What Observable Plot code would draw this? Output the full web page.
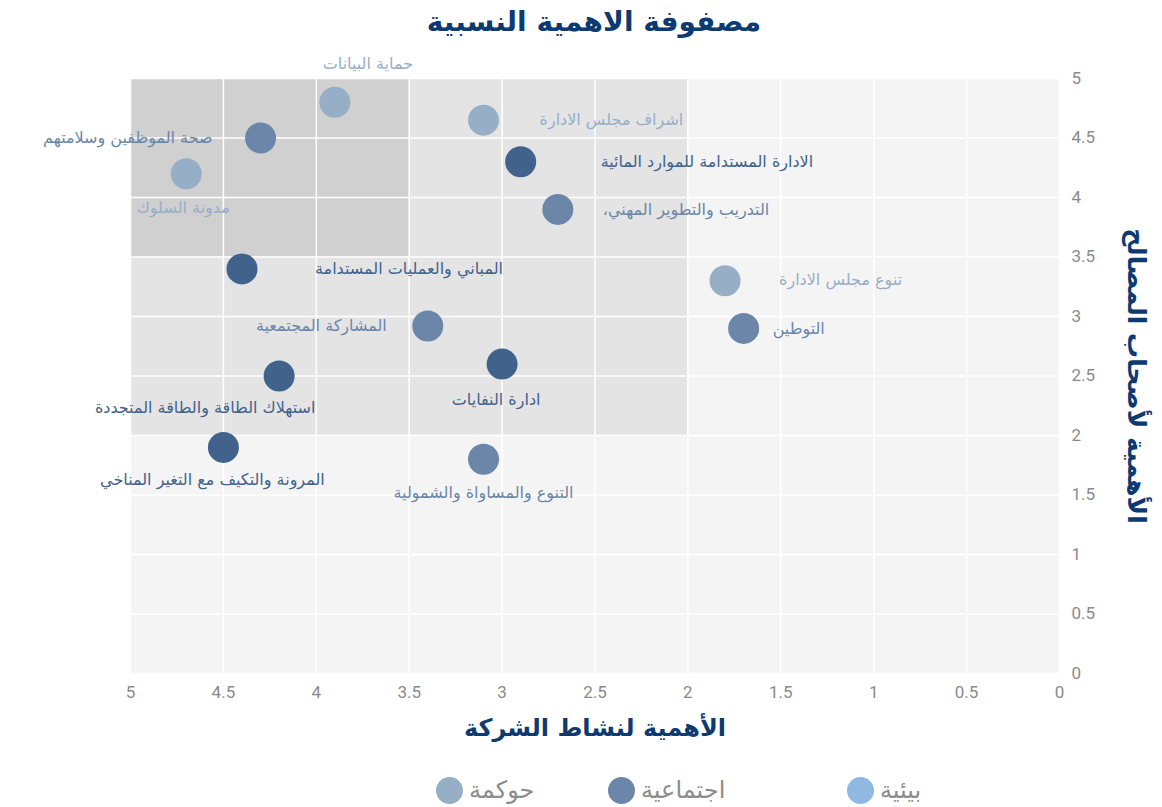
<!DOCTYPE html>
<html lang="ar">
<head>
<meta charset="utf-8">
<script src="https://cdn.jsdelivr.net/npm/d3@7"></script>
<script src="https://cdn.jsdelivr.net/npm/@observablehq/plot@0.6"></script>
<style>
  html, body { margin: 0; padding: 0; background: #fff; }
  body { width: 1162px; height: 807px; position: relative; overflow: hidden; font-family: "DejaVu Sans", sans-serif; }
  #title { position: absolute; top: 0; left: 13px; width: 1162px; height: 45px; text-align: center;
           font: bold 28px "DejaVu Sans", sans-serif; color: #0d3a70; line-height: 44px; }
  #chart { position: absolute; top: 45px; left: 0; }
  #legend { position: absolute; top: 775px; left: 0; width: 1162px; height: 30px; }
  .item { position: absolute; top: 0; display: flex; align-items: center; height: 30px; }
  .sw { width: 27px; height: 27px; border-radius: 50%; margin-right: 6px; }
  .lt { font: 24px "DejaVu Sans", sans-serif; color: #8c8c8c; }
</style>
</head>
<body>
<div id="title">مصفوفة الاهمية النسبية</div>
<div id="chart"></div>
<div id="legend"></div>
<script>
// ---- data ----
const topics = [
  "حماية البيانات",
  "صحة الموظفين وسلامتهم",
  "مدونة السلوك",
  "اشراف مجلس الادارة",
  "الادارة المستدامة للموارد المائية",
  "التدريب والتطوير المهني،\u200F",
  "المباني والعمليات المستدامة",
  "تنوع مجلس الادارة",
  "المشاركة المجتمعية",
  "التوطين",
  "ادارة النفايات",
  "استهلاك الطاقة والطاقة المتجددة",
  "المرونة والتكيف مع التغير المناخي",
  "التنوع والمساواة والشمولية"
];
const companyImportance = [3.9, 4.3, 4.7, 3.1, 2.9, 2.7, 4.4, 1.8, 3.4, 1.7, 3.0, 4.2, 4.5, 3.1];
const stakeholderImportance = [4.8, 4.5, 4.2, 4.65, 4.3, 3.9, 3.4, 3.3, 2.92, 2.9, 2.6, 2.5, 1.9, 1.8];
const topicCategory = ["حوكمة", "اجتماعية", "حوكمة", "حوكمة", "بيئية", "اجتماعية", "بيئية", "حوكمة", "اجتماعية", "اجتماعية", "بيئية", "بيئية", "بيئية", "اجتماعية"];

const legendCategories = ["حوكمة", "اجتماعية", "بيئية"];
const axisTicks = [0, 0.5, 1, 1.5, 2, 2.5, 3, 3.5, 4, 4.5, 5];

const zoneX1 = [0, 2, 3.5];
const zoneX2 = [5, 5, 5];
const zoneY1 = [0, 2, 3.5];
const zoneY2 = [5, 5, 5];

const chartTitleX = "الأهمية لنشاط الشركة";
const chartTitleY = "الأهمية لأصحاب المصالح";

// ---- styles ----
const dotColor = {"حوكمة": "#97aec7", "اجتماعية": "#6b86a8", "بيئية": "#41628b"};
const legendColor = {"حوكمة": "#97aec7", "اجتماعية": "#6b86a8", "بيئية": "#8fb9e1"};
const zoneFill = ["#f4f4f4", "#e4e4e4", "#d0d0d0"];
// label placement relative to its dot (pixels)
const labelPlacement = [
  {dx: 33, dy: -38, anchor: "middle"},
  {dx: -48, dy: 0, anchor: "end"},
  {dx: -3, dy: 34, anchor: "middle"},
  {dx: 56, dy: 0, anchor: "start"},
  {dx: 80, dy: 0, anchor: "start"},
  {dx: 45, dy: 0, anchor: "start"},
  {dx: 73, dy: 0, anchor: "start"},
  {dx: 54, dy: -1, anchor: "start"},
  {dx: -41, dy: 0, anchor: "end"},
  {dx: 29, dy: 0, anchor: "start"},
  {dx: -6, dy: 36, anchor: "middle"},
  {dx: -74, dy: 32, anchor: "middle"},
  {dx: -11, dy: 32, anchor: "middle"},
  {dx: 0, dy: 34, anchor: "middle"}
];

const data = topics.map((t, i) => ({
  topic: t, x: companyImportance[i], y: stakeholderImportance[i], cat: topicCategory[i], i
}));
const zones = zoneX1.map((_, i) => ({x1: zoneX1[i], x2: zoneX2[i], y1: zoneY1[i], y2: zoneY2[i], i}));

const fmt = d => String(d);
const tickFont = "'Liberation Sans Narrow', 'Roboto', sans-serif";

const labelMarks = data.map(d => Plot.text([d], {
  x: "x", y: "y", text: "topic",
  dx: labelPlacement[d.i].dx, dy: labelPlacement[d.i].dy,
  textAnchor: labelPlacement[d.i].anchor,
  fill: dotColor[d.cat], fontSize: 16, fontFamily: "DejaVu Sans"
}));

const chart = Plot.plot({
  width: 1162, height: 710,
  marginLeft: 130, marginRight: 103, marginTop: 33, marginBottom: 82,
  x: {domain: [5, 0]},
  y: {domain: [0, 5]},
  style: {background: "transparent", overflow: "visible"},
  marks: [
    Plot.rect(zones, {x1: "x1", x2: "x2", y1: "y1", y2: "y2", fill: d => zoneFill[d.i]}),
    Plot.ruleX(axisTicks, {stroke: "#ffffff", strokeWidth: 1.5}),
    Plot.ruleY(axisTicks, {stroke: "#ffffff", strokeWidth: 1.5}),
    Plot.axisX({ticks: axisTicks, tickSize: 0, tickPadding: 12, tickFormat: fmt, label: null,
      fontSize: 17, fontFamily: tickFont, color: "#8a8a8a"}),
    Plot.axisY({anchor: "right", ticks: axisTicks, tickSize: 0, tickPadding: 12, tickFormat: fmt, label: null,
      fontSize: 17, fontFamily: tickFont, color: "#8a8a8a"}),
    Plot.dot(data, {x: "x", y: "y", r: 15.5, fill: d => dotColor[d.cat], stroke: "none"}),
    ...labelMarks,
    Plot.text([chartTitleX], {frameAnchor: "bottom", dy: 62, text: d => d, fontSize: 24, fontWeight: "bold",
      fill: "#0d3a70", fontFamily: "DejaVu Sans", textAnchor: "middle"}),
    Plot.text([chartTitleY], {frameAnchor: "right", dx: 76, rotate: 90, text: d => d, fontSize: 25, fontWeight: "bold",
      fill: "#0d3a70", fontFamily: "DejaVu Sans", textAnchor: "middle"})
  ]
});
document.getElementById("chart").appendChild(chart);

// legend
const legendLeft = [436, 608, 847];
const legend = document.getElementById("legend");
legendCategories.forEach((c, i) => {
  const it = document.createElement("div");
  it.className = "item";
  it.style.left = legendLeft[i] + "px";
  const sw = document.createElement("div");
  sw.className = "sw";
  sw.style.background = legendColor[c];
  const lt = document.createElement("span");
  lt.className = "lt";
  lt.textContent = c;
  it.appendChild(sw); it.appendChild(lt);
  legend.appendChild(it);
});
</script>
</body>
</html>
